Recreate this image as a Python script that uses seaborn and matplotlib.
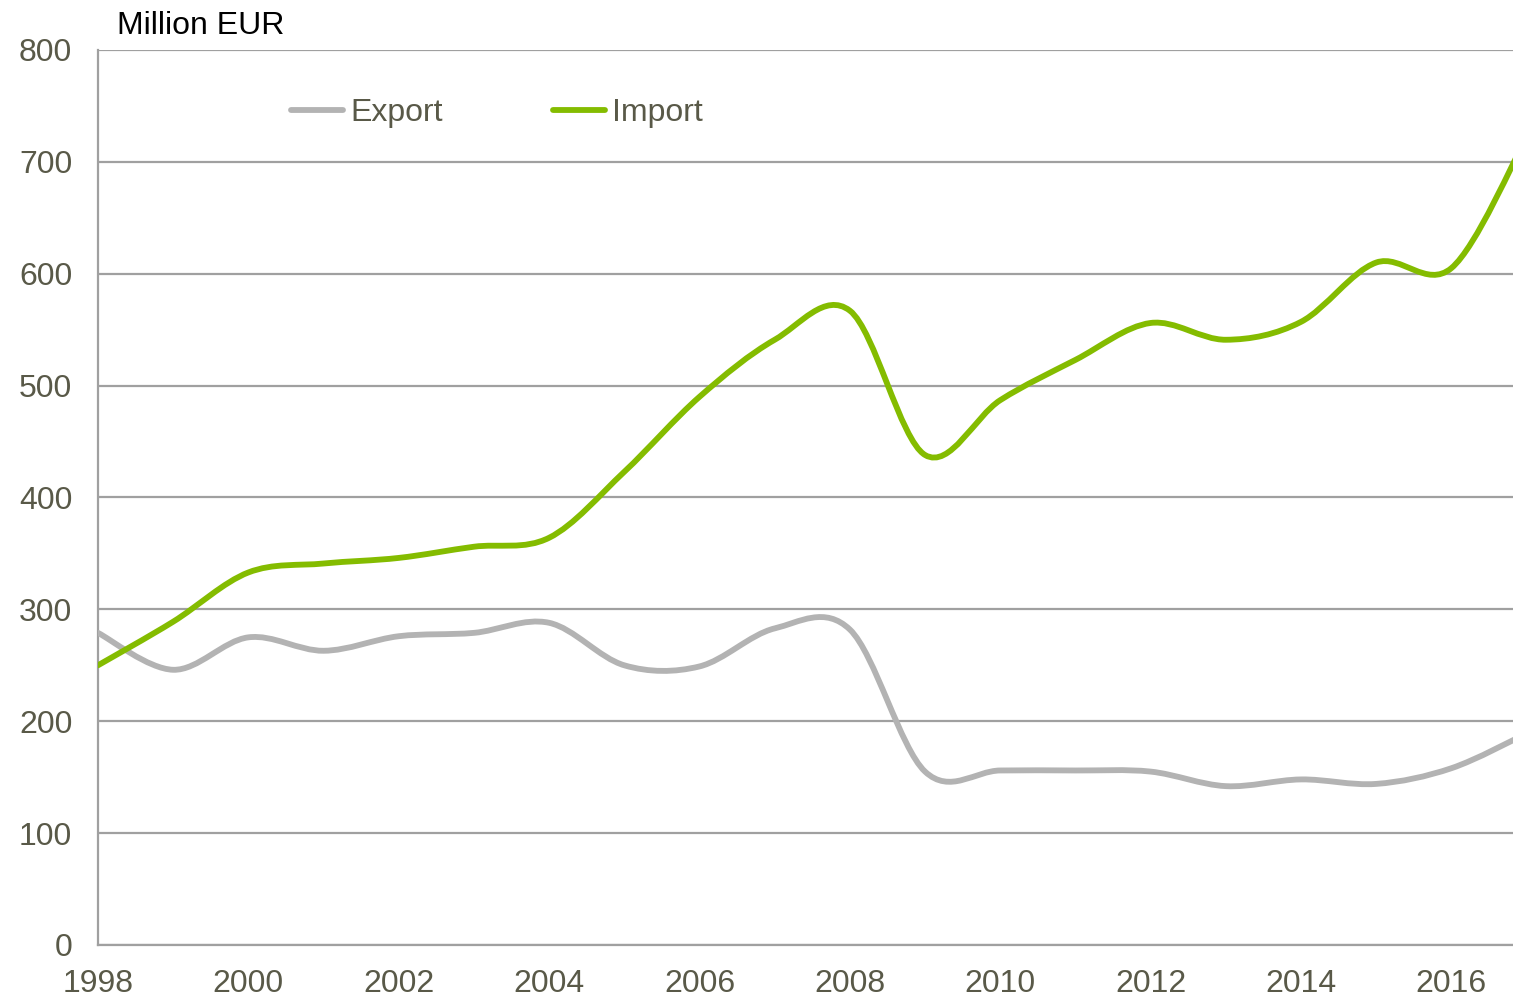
import numpy as np
import pandas as pd
import matplotlib.pyplot as plt
from matplotlib.path import Path
from matplotlib.patches import PathPatch
import seaborn as sns

# === Data (Million EUR) ===
years = list(range(1998, 2018))
export_vals = [279, 246, 275, 263, 276, 279, 288, 250, 249, 283,
               282, 155, 156, 156, 155, 142, 148, 144, 158, 189]
import_vals = [250, 289, 333, 341, 346, 356, 364, 423, 490, 541,
               567, 438, 487, 523, 556, 541, 557, 610, 605, 722]
series_names = ["Export", "Import"]
series_colors = ["#b3b3b3", "#84bc00"]
y_ticks = [0, 100, 200, 300, 400, 500, 600, 700, 800]
x_labels = [1998, 2000, 2002, 2004, 2006, 2008, 2010, 2012, 2014, 2016]

TEXT_COL = "#595948"
GRID_COL = "#a0a0a0"
FS = 23
LW = 4.2

df = pd.DataFrame({"Year": years, "Export": export_vals, "Import": import_vals})
df_long = df.melt(id_vars="Year", var_name="Series", value_name="Value")

sns.set_style("white")
plt.rcParams["font.family"] = ["Liberation Sans", "DejaVu Sans"]

fig = plt.figure(figsize=(15.13, 9.99), dpi=100)
ax = fig.add_axes([98 / 1513, 1 - 945 / 999, 1 - 98 / 1513, (945 - 50) / 999])

sns.lineplot(data=df_long, x="Year", y="Value", hue="Series",
             hue_order=series_names, palette=series_colors,
             linewidth=LW, ax=ax)


# --- Excel-style smoothed lines: swap straight segments for bezier curves ---
def smooth_path(x, y):
    pts = np.column_stack([x, y]).astype(float)
    ext = np.vstack([pts[0], pts, pts[-1]])
    verts = [pts[0]]
    codes = [Path.MOVETO]
    for i in range(len(pts) - 1):
        p0, p1, p2, p3 = ext[i], ext[i + 1], ext[i + 2], ext[i + 3]
        verts += [p1 + (p2 - p0) / 6, p2 - (p3 - p1) / 6, p2]
        codes += [Path.CURVE4] * 3
    return Path(verts, codes)


for line in list(ax.lines):
    xd, yd = line.get_xdata(), line.get_ydata()
    if len(xd) < 3:
        continue
    patch = PathPatch(smooth_path(xd, yd), facecolor="none",
                      edgecolor=line.get_color(), linewidth=line.get_linewidth(),
                      capstyle="round", joinstyle="round", zorder=3)
    ax.add_patch(patch)
    line.remove()

# === Axes styling ===
ax.set_xlim(1998, 2016.82)
ax.set_ylim(0, 800)
ax.set_yticks(y_ticks)
ax.set_xticks(years[:-1], minor=True)
ax.set_xticks(x_labels)
ax.set_xticklabels([str(v) for v in x_labels])
ax.yaxis.grid(True, color=GRID_COL, linewidth=1.6)
ax.set_axisbelow(True)
for side in ["top", "right"]:
    ax.spines[side].set_visible(False)
for side in ["left", "bottom"]:
    ax.spines[side].set_color(GRID_COL)
    ax.spines[side].set_linewidth(1.6)
ax.tick_params(axis="both", which="both", direction="out", color=GRID_COL,
               width=1.6, length=6.5, labelsize=FS, labelcolor=TEXT_COL)
ax.tick_params(axis="y", pad=12)
ax.tick_params(axis="x", which="major", pad=11)
ax.set_xlabel("")
ax.set_ylabel("")

fig.text(117 / 1513, 1 - 34 / 999, "Million EUR", fontsize=FS, color="black",
         va="baseline", ha="left")

sns.move_legend(ax, loc="center left", bbox_to_anchor=(291 / 1513, 1 - 113 / 999),
                bbox_transform=fig.transFigure, ncol=2, frameon=False, title=None,
                fontsize=FS, handlelength=1.63, handletextpad=0.22,
                columnspacing=3.45, borderpad=0, borderaxespad=0,
                labelcolor=TEXT_COL)
for h in ax.get_legend().legend_handles:
    h.set_linewidth(LW)

fig.savefig("out.png", dpi=100)
